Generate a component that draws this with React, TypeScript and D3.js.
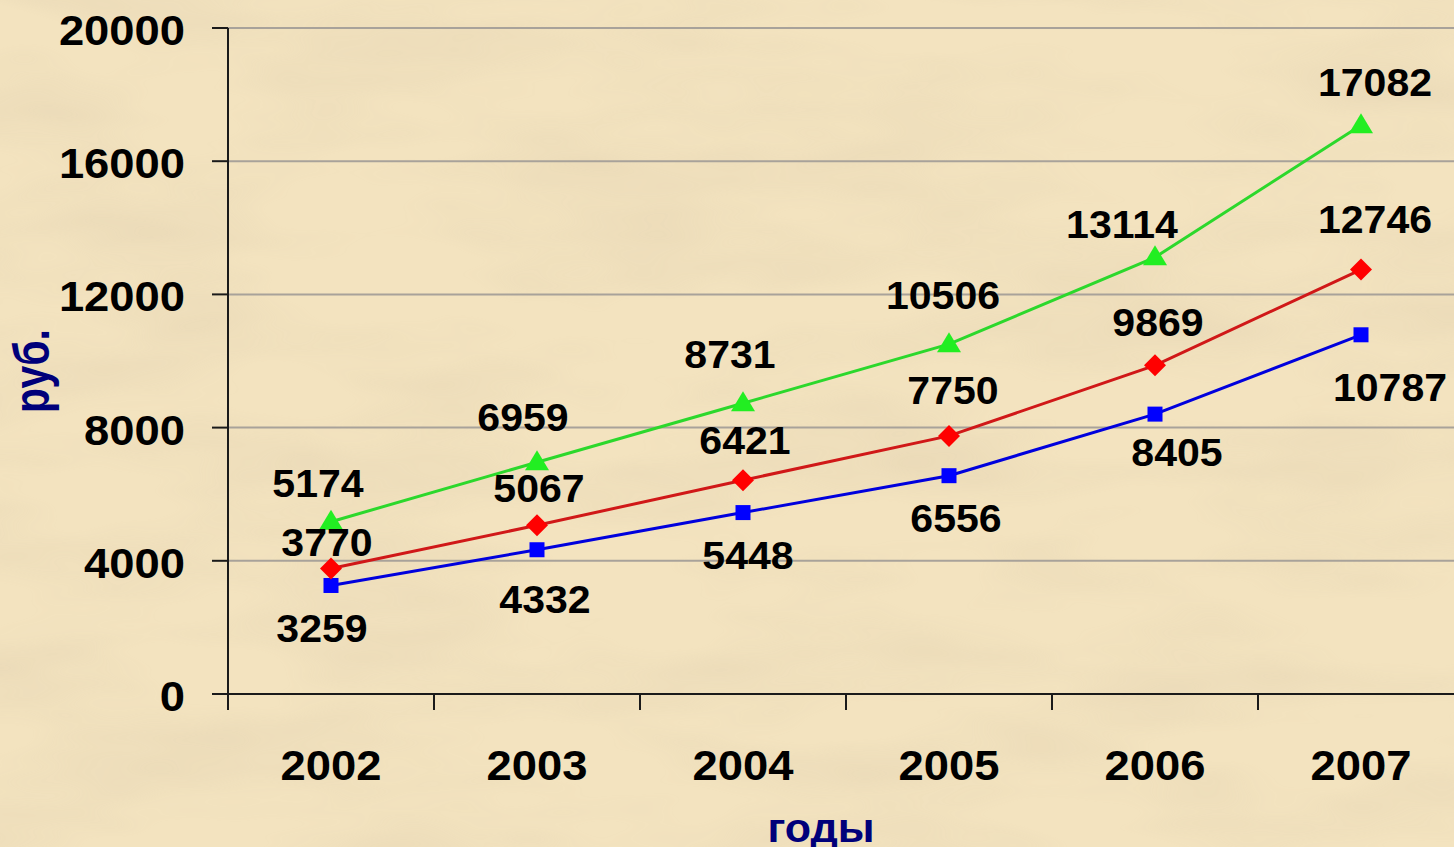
import React from "react";
import * as d3 from "d3";

const years = ["2002", "2003", "2004", "2005", "2006", "2007"];
const greenValues = [5174, 6959, 8731, 10506, 13114, 17082];
const redValues = [3770, 5067, 6421, 7750, 9869, 12746];
const blueValues = [3259, 4332, 5448, 6556, 8405, 10787];
const yTicks = [0, 4000, 8000, 12000, 16000, 20000];

// label offsets (layout only)
const greenOffsets = [[-13, -38], [-14, -44], [-13, -48], [-6, -48], [-33, -32], [14, -42]];
const redOffsets = [[-4, -25], [2, -36], [2, -39], [4, -45], [3, -42], [14, -50]];
const blueOffsets = [[-9, 44], [8, 50], [5, 43], [7, 43], [22, 39], [29, 53]];

const W = 1454, H = 847;
const left = 228, bottom = 694, top = 28;

export default function App() {
  const x = d3.scaleBand<string>().domain(years).range([left, left + 6 * 206]);
  const y = d3.scaleLinear().domain([0, 20000]).range([bottom, top]);
  const cx = (yr: string) => (x(yr) as number) + x.bandwidth() / 2;

  const line = d3.line<number>().x((_, i) => cx(years[i])).y((v) => y(v));

  const series = [
    { vals: blueValues, offs: blueOffsets, line: "#0000dd", mark: "#0000ff", shape: "square" },
    { vals: redValues, offs: redOffsets, line: "#d01818", mark: "#ff0000", shape: "diamond" },
    { vals: greenValues, offs: greenOffsets, line: "#2cd82c", mark: "#22ee22", shape: "triangle" },
  ];

  const marker = (shape: string, px: number, py: number, fill: string, key: string) => {
    if (shape === "square") return <rect key={key} x={px - 7.5} y={py - 7.5} width={15} height={15} fill={fill} />;
    if (shape === "diamond")
      return <path key={key} d={`M${px},${py - 11}L${px + 11},${py}L${px},${py + 11}L${px - 11},${py}Z`} fill={fill} />;
    return <path key={key} d={`M${px},${py - 12}L${px + 12},${py + 8}L${px - 12},${py + 8}Z`} fill={fill} />;
  };

  const font = "'Liberation Sans', Arial, sans-serif";

  return (
    <svg width={W} height={H} style={{ position: "fixed", left: 0, top: 0 }} fontFamily={font}>
      <defs>
        <filter id="paper" x="0" y="0" width="100%" height="100%">
          <feTurbulence type="fractalNoise" baseFrequency="0.004 0.014" numOctaves={3} seed={7} result="n" />
          <feColorMatrix
            type="matrix"
            values="0 0 0 0 0.76  0 0 0 0 0.64  0 0 0 0 0.44  0 0 0 1.3 -0.5"
          />
        </filter>
      </defs>
      <rect width={W} height={H} fill="#f3e3bf" />
      <rect width={W} height={H} filter="url(#paper)" opacity={0.7} />

      {/* gridlines */}
      {yTicks.filter((t) => t > 0).map((t) => (
        <line key={"g" + t} x1={left} x2={W} y1={y(t)} y2={y(t)} stroke="#a8a29a" strokeWidth={2} />
      ))}

      {/* axes */}
      <line x1={left} x2={left} y1={top} y2={bottom + 16} stroke="#1a1a1a" strokeWidth={2} />
      <line x1={left - 16} x2={W} y1={bottom} y2={bottom} stroke="#1a1a1a" strokeWidth={2} />
      {yTicks.map((t) => (
        <g key={"yt" + t}>
          <line x1={left - 16} x2={left} y1={y(t)} y2={y(t)} stroke="#1a1a1a" strokeWidth={2} />
          <text
            transform={`translate(185,${y(t) + 17}) scale(1.08,1)`}
            textAnchor="end"
            fontSize={42}
            fontWeight="bold"
            fill="#000"
          >
            {t}
          </text>
        </g>
      ))}
      {years.map((yr, i) => (
        <g key={"xt" + yr}>
          <line x1={left + i * 206} x2={left + i * 206} y1={bottom} y2={bottom + 16} stroke="#1a1a1a" strokeWidth={2} />
          <text
            transform={`translate(${cx(yr)},780) scale(1.08,1)`}
            textAnchor="middle"
            fontSize={42}
            fontWeight="bold"
            fill="#000"
          >
            {yr}
          </text>
        </g>
      ))}

      {/* axis titles */}
      <text
        transform="translate(821,842) scale(1.05,1)"
        textAnchor="middle"
        fontSize={41}
        fontWeight="bold"
        fill="#00007a"
      >
        годы
      </text>
      <text
        transform="translate(49,371) rotate(-90) scale(1,1.2)"
        textAnchor="middle"
        fontSize={41}
        fontWeight="bold"
        fill="#00007a"
      >
        руб.
      </text>

      {/* series */}
      {series.map((s, si) => (
        <g key={"s" + si}>
          <path d={line(s.vals) as string} fill="none" stroke={s.line} strokeWidth={3} />
          {s.vals.map((v, i) => marker(s.shape, cx(years[i]), y(v), s.mark, `m${si}-${i}`))}
        </g>
      ))}
      {series.map((s, si) =>
        s.vals.map((v, i) => (
          <text
            key={`l${si}-${i}`}
            transform={`translate(${cx(years[i]) + s.offs[i][0]},${y(v) + s.offs[i][1] + 13}) scale(1.08,1)`}
            textAnchor="middle"
            fontSize={38}
            fontWeight="bold"
            fill="#000"
          >
            {v}
          </text>
        ))
      )}
    </svg>
  );
}
